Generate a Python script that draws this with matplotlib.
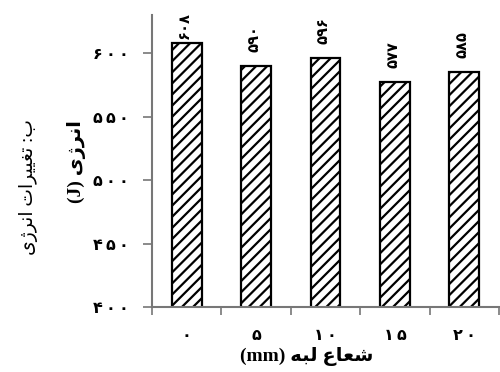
import matplotlib
matplotlib.use('Agg')
import matplotlib.pyplot as plt
import numpy as np

# Edge radius (mm) categories and measured energy (J)
radius_labels = ['۰', '۵', '۱۰', '۱۵', '۲۰']
energy = [608, 590, 596, 577, 585]
value_labels = ['۶۰۸', '۵۹۰', '۵۹۶', '۵۷۷', '۵۸۵']
ytick_values = [400, 450, 500, 550, 600]
ytick_labels = ['۴۰۰', '۴۵۰', '۵۰۰', '۵۵۰', '۶۰۰']

# Persian strings written in shaped presentation forms, visual left-to-right order
xlabel_text = '(mm) \uFEEA\uFE92\uFEDF \uFEC9\uFE8E\uFECC\uFEB7'
ylabel_text = '(J) \uFBFC\uFB8A\uFEAE\uFEE7\uFE8D'
side_text = '\uFBFC\uFB8A\uFEAE\uFEE7\uFE8D \uFE95\uFE8D\uFEAE\uFBFF\uFBFF\uFED0\uFE97 :\uFE8F'

plt.rcParams['hatch.linewidth'] = 1.6
serif_mix = ['Liberation Serif', 'DejaVu Sans']


def spaced(s):
    """Open up the digit spacing of an axis label."""
    return '\u2009'.join(s)


fig = plt.figure(figsize=(5, 3.72), dpi=100)
ax = fig.add_axes([0.304, 0.1747, 0.694, 0.785])

x = np.arange(len(energy))
ax.bar(x, energy, width=0.43, color='white', edgecolor='black',
       linewidth=1.6, hatch='///', zorder=2)

ax.set_xlim(-0.5, len(energy) - 0.5)
ax.set_ylim(400, 630)

axis_gray = '#777777'
for side in ('top', 'right'):
    ax.spines[side].set_visible(False)
for side in ('left', 'bottom'):
    ax.spines[side].set_color(axis_gray)
    ax.spines[side].set_linewidth(1.5)
    ax.spines[side].set_zorder(3)

# y axis
ax.set_yticks(ytick_values)
ax.set_yticklabels([spaced(s) for s in ytick_labels], fontsize=11.5,
                   fontweight='bold', family='DejaVu Sans')
ax.tick_params(axis='y', which='major', direction='out', length=6.5, width=1.2,
               color=axis_gray, pad=10)

# x axis: boundary ticks between categories, labels centred under bars
ax.set_xticks(np.arange(len(energy) + 1) - 0.5)
ax.set_xticklabels([])
ax.set_xticks(x, minor=True)
ax.set_xticklabels([spaced(s) for s in radius_labels], minor=True, fontsize=11.5,
                   fontweight='bold', family='DejaVu Sans')
ax.tick_params(axis='x', which='major', direction='out', length=6, width=1.2,
               color=axis_gray)
ax.tick_params(axis='x', which='minor', length=0, pad=15)

fig.text(307 / 500, 1 - 357 / 372, xlabel_text, ha='center', va='center',
         fontsize=14, fontweight='bold', family=serif_mix)
fig.text(77 / 500, 1 - 162 / 372, ylabel_text, ha='center', va='center',
         rotation=90, fontsize=14, fontweight='bold', family=serif_mix)
fig.text(29 / 500, 1 - 187 / 372, side_text, ha='center', va='center',
         rotation=90, fontsize=13.5, family=serif_mix)

# value labels above the bars, kept inside the figure
gap_pt = 10
labels = []
for xi, v, lab in zip(x, energy, value_labels):
    t = ax.annotate(lab, (xi, v), xytext=(-1.5, gap_pt), textcoords='offset points',
                    rotation=90, ha='center', va='bottom', fontsize=10.5,
                    fontweight='bold', family='DejaVu Sans', annotation_clip=False)
    labels.append(t)

fig.canvas.draw()
renderer = fig.canvas.get_renderer()
limit = fig.bbox.height - 12
for t in labels:
    bb = t.get_window_extent(renderer)
    if bb.y1 > limit:
        shift_pt = (bb.y1 - limit) * 72 / fig.dpi
        t.xyann = (t.xyann[0], max(0, gap_pt - shift_pt))

fig.savefig('out.png', dpi=100)
